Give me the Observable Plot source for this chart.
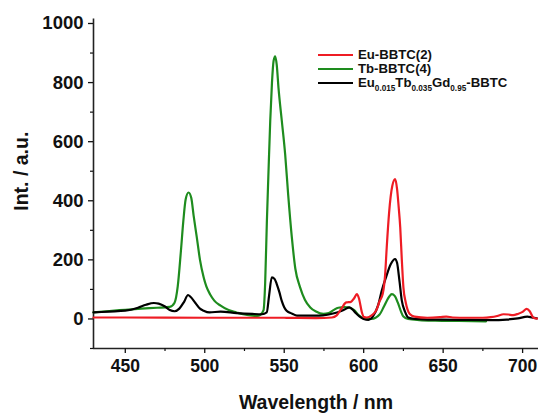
<!DOCTYPE html>
<html>
<head>
<meta charset="utf-8">
<script src="https://cdn.jsdelivr.net/npm/d3@7"></script>
<script src="https://cdn.jsdelivr.net/npm/@observablehq/plot@0.6"></script>
<style>
  body { margin: 0; background: #fff; }
  #chart { position: relative; width: 542px; height: 414px; font-family: "Liberation Sans", Arial, sans-serif; }
  .legend { position: absolute; left: 318px; top: 47.5px; font-weight: bold; font-size: 13.2px; line-height: 11px; color: #111; }
  .legend .row { display: flex; align-items: center; height: 14px; white-space: nowrap; }
  .legend .sw { width: 35px; height: 2px; margin-right: 5px; }
  .legend .lbl { display: inline-block; height: 11px; line-height: 11px; overflow: visible; }
  .legend sub { font-size: 8.2px; vertical-align: -3.5px; line-height: 0; }
</style>
</head>
<body>
<div id="chart"></div>
<script>
// Emission spectra (intensity vs. wavelength)
const euName = "Eu-BBTC(2)";
const euColor = "#ee1c24";
const euWavelength = [430, 450, 500, 550, 570, 580, 583, 586, 589, 592, 594, 595.7, 597, 598.9, 600, 602, 605, 608, 610, 612, 613.5, 614.5, 616, 618, 619.8, 621, 622, 623, 624, 625, 626.5, 629, 632, 640, 648, 652, 656, 665, 675, 680, 684, 688, 691, 694, 697, 700, 702.6, 704.5, 706.8, 709];
const euIntensity = [5, 5, 4, 4, 3, 5, 12, 35, 56, 58, 70, 84, 70, 22, 7, 5, 12, 30, 60, 85, 150, 242, 360, 450, 473, 440, 380, 310, 200, 107, 55, 17, 8, 4, 6, 8, 5, 4, 4, 6, 10, 16, 15, 13, 17, 24, 34, 26, 4, 1];

const tbName = "Tb-BBTC(4)";
const tbColor = "#1e8c1e";
const tbWavelength = [430, 440, 450, 460, 470, 478, 481, 483, 485, 486.5, 488, 489.8, 491.5, 493, 495, 497, 499.3, 501, 503.5, 506, 510, 515, 520, 525, 530, 533, 535, 537, 538, 539.1, 540, 541.2, 542.3, 543.3, 544.3, 545.3, 546.4, 548.5, 550.6, 552.5, 554.8, 557, 560, 563, 566.4, 570, 574.7, 578, 581, 584, 588, 591, 594, 597, 600, 605, 610, 613, 616, 617.7, 619.5, 621.5, 623.5, 625, 628, 635, 645, 660, 677];
const tbIntensity = [22, 27, 31, 35, 38, 41, 55, 110, 230, 330, 405, 428, 410, 350, 276, 200, 141, 110, 82, 62, 45, 30, 22, 15, 11, 10, 14, 30, 120, 332, 480, 670, 800, 873, 889, 860, 782, 670, 557, 420, 276, 170, 107, 65, 39, 25, 17, 20, 30, 38, 40, 38, 30, 12, 2, 0, 15, 45, 75, 84, 78, 55, 25, 8, 0, -4, -6, -7, -8];

const mixColor = "#000000";
const mixWavelength = [430, 440, 450, 458, 463, 468, 471, 475, 478, 481, 484, 487, 489.5, 491, 494, 497, 499.3, 503, 510, 520, 530, 536, 539, 540.5, 542.2, 544, 545.3, 547, 548.4, 550, 551.5, 555, 558, 565, 572, 578, 582, 585, 588, 591, 593, 595, 597.5, 600, 603, 606, 609, 611.4, 614, 617, 619.8, 621, 622.5, 624, 626, 628, 632, 640, 660, 680, 690, 697, 703, 706, 709];
const mixIntensity = [22, 25, 28, 38, 48, 54, 52, 42, 30, 26, 35, 58, 81, 75, 55, 35, 28, 22, 25, 20, 17, 16, 22, 80, 141, 135, 118, 90, 62, 40, 28, 18, 11, 11, 11, 15, 20, 25, 32, 39, 32, 20, 8, 0, -3, 10, 45, 96, 140, 185, 203, 190, 130, 62, 25, 5, 0, -2, -3, -4, -2, 2, 8, 5, 2];

const xTicks = [450, 500, 550, 600, 650, 700];
const xMinorTicks = [475, 525, 575, 625, 675];
const yTicks = [0, 200, 400, 600, 800, 1000];
const yMinorTicks = [-100, 100, 300, 500, 700, 900];

const toRows = (wl, v) => wl.map((w, i) => ({w, v: v[i]}));
const tb = toRows(tbWavelength, tbIntensity);
const mix = toRows(mixWavelength, mixIntensity);
const eu = toRows(euWavelength, euIntensity);

const font = "Liberation Sans, Arial, sans-serif";

const chart = Plot.plot({
  width: 542,
  height: 414,
  marginLeft: 93,
  marginRight: 4,
  marginTop: 23,
  marginBottom: 66,
  style: {fontFamily: font, fontWeight: "bold", color: "#111", background: "#fff"},
  x: {domain: [430, 710]},
  y: {domain: [-100, 1000]},
  marks: [
    Plot.ruleX([430], {y1: -100, y2: 1015, stroke: "#222", strokeWidth: 1.6}),
    Plot.ruleY([-100], {x1: 430, x2: 710, stroke: "#222", strokeWidth: 1.6}),
    Plot.axisY({ticks: yTicks, tickFormat: d3.format("d"), tickSize: 5, tickPadding: 5, fontSize: 18.5, fontWeight: "bold", label: null, strokeWidth: 1.3}),
    Plot.axisY({ticks: yMinorTicks, tickSize: 3, text: null, label: null, strokeWidth: 1.2}),
    Plot.axisX({ticks: xTicks, tickFormat: d3.format("d"), tickSize: 5, tickPadding: 6, fontSize: 17.5, fontWeight: "bold", label: null, strokeWidth: 1.3}),
    Plot.axisX({ticks: xMinorTicks, tickSize: 3, text: null, label: null, strokeWidth: 1.2}),
    Plot.line(tb, {x: "w", y: "v", stroke: tbColor, strokeWidth: 2.2, curve: "monotone-x"}),
    Plot.line(mix, {x: "w", y: "v", stroke: mixColor, strokeWidth: 2.2, curve: "monotone-x"}),
    Plot.line(eu, {x: "w", y: "v", stroke: euColor, strokeWidth: 2.2, curve: "monotone-x"}),
    Plot.text(["Wavelength / nm"], {x: 570, y: -100, dy: 54, fontSize: 19.5, fontWeight: "bold", fill: "#111"}),
    Plot.text(["Int. / a.u."], {x: 430, y: 500, dx: -72, rotate: -90, fontSize: 19.5, fontWeight: "bold", fill: "#111"})
  ]
});

const root = document.getElementById("chart");
root.appendChild(chart);

// Legend drawn over the top-right of the plot area
const legend = document.createElement("div");
legend.className = "legend";
legend.innerHTML = `
  <div class="row"><span class="sw" style="background:${euColor}"></span><span class="lbl">${euName}</span></div>
  <div class="row"><span class="sw" style="background:${tbColor}"></span><span class="lbl">${tbName}</span></div>
  <div class="row"><span class="sw" style="background:${mixColor}"></span><span class="lbl">Eu<sub>0.015</sub>Tb<sub>0.035</sub>Gd<sub>0.95</sub>-BBTC</span></div>`;
root.appendChild(legend);
</script>
</body>
</html>
